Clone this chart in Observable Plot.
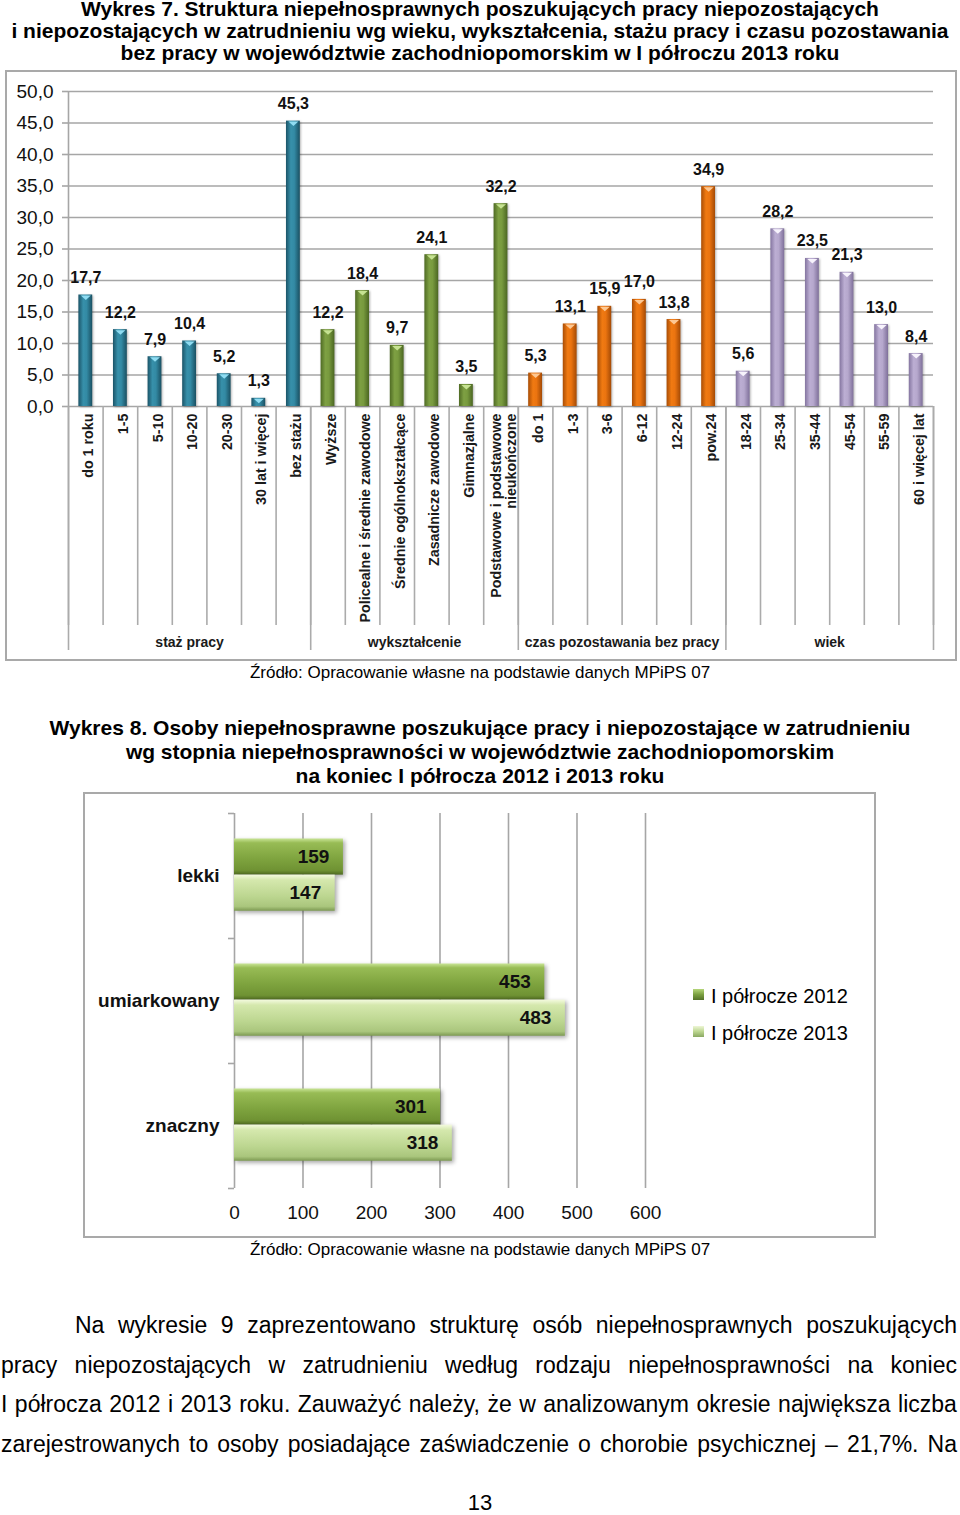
<!DOCTYPE html>
<html lang="pl">
<head>
<meta charset="utf-8">
<script src="https://cdn.jsdelivr.net/npm/d3@7"></script>
<script src="https://cdn.jsdelivr.net/npm/@observablehq/plot@0.6"></script>
<style>
html,body{margin:0;padding:0;background:#fff;}
body{width:960px;height:1515px;position:relative;overflow:hidden;font-family:"Liberation Sans",Arial,sans-serif;color:#000;}
.ab{position:absolute;}
.tl{position:absolute;left:0;width:960px;text-align:center;white-space:nowrap;font-weight:bold;font-size:21px;line-height:21px;}
.src{position:absolute;left:0;width:960px;text-align:center;white-space:nowrap;font-size:17px;line-height:17px;}
.box{position:absolute;box-sizing:border-box;border:2px solid #a9a9a9;}
.pl{position:absolute;display:flex;justify-content:space-between;font-size:23px;line-height:23px;white-space:nowrap;}
.leg{position:absolute;font-size:20px;line-height:20px;white-space:nowrap;}
.sq{position:absolute;width:11px;height:11px;}
#c1 g[aria-label="rect"] rect{filter:drop-shadow(1.5px 1px 1px rgba(0,0,0,0.3));}
#c2 g[aria-label="rect"] rect{filter:drop-shadow(2px 2px 2px rgba(0,0,0,0.35));}
</style>
</head>
<body>
<svg width="0" height="0" style="position:absolute">
  <defs>
    <linearGradient id="bar0" x1="0" y1="0" x2="1" y2="0">
      <stop offset="0" stop-color="#1b5468"/><stop offset="0.35" stop-color="#3790aa"/><stop offset="0.6" stop-color="#338aa4"/><stop offset="1" stop-color="#1a5062"/>
    </linearGradient>
    <linearGradient id="bar1" x1="0" y1="0" x2="1" y2="0">
      <stop offset="0" stop-color="#4f6b24"/><stop offset="0.35" stop-color="#7ea043"/><stop offset="0.6" stop-color="#789a3e"/><stop offset="1" stop-color="#4b6622"/>
    </linearGradient>
    <linearGradient id="bar2" x1="0" y1="0" x2="1" y2="0">
      <stop offset="0" stop-color="#a94d05"/><stop offset="0.35" stop-color="#f07a12"/><stop offset="0.6" stop-color="#eb7410"/><stop offset="1" stop-color="#a44a05"/>
    </linearGradient>
    <linearGradient id="bar3" x1="0" y1="0" x2="1" y2="0">
      <stop offset="0" stop-color="#8475a0"/><stop offset="0.35" stop-color="#bcaed3"/><stop offset="0.6" stop-color="#b6a8cd"/><stop offset="1" stop-color="#7f709a"/>
    </linearGradient>
    <linearGradient id="hb0" x1="0" y1="0" x2="0" y2="1">
      <stop offset="0" stop-color="#c9e596"/><stop offset="0.12" stop-color="#98bc55"/><stop offset="0.55" stop-color="#7fa43f"/><stop offset="0.88" stop-color="#6f9233"/><stop offset="1" stop-color="#4f6b22"/>
    </linearGradient>
    <linearGradient id="hb1" x1="0" y1="0" x2="0" y2="1">
      <stop offset="0" stop-color="#f4fadf"/><stop offset="0.15" stop-color="#d5e8ad"/><stop offset="0.6" stop-color="#bcd690"/><stop offset="0.88" stop-color="#aac67d"/><stop offset="1" stop-color="#7d9a52"/>
    </linearGradient>
  </defs>
</svg>

<div class="tl" style="top:-2px">Wykres 7. Struktura niepełnosprawnych poszukujących pracy niepozostających</div>
<div class="tl" style="top:20px">i niepozostających w zatrudnieniu wg wieku, wykształcenia, stażu pracy i czasu pozostawania</div>
<div class="tl" style="top:42px">bez pracy w województwie zachodniopomorskim w I półroczu 2013 roku</div>

<div class="box" style="left:5px;top:70px;width:952px;height:591px"></div>
<div id="c1" class="ab" style="left:0;top:70px"></div>
<div class="src" style="top:664px">Źródło: Opracowanie własne na podstawie danych MPiPS 07</div>

<div class="tl" style="top:717px">Wykres 8. Osoby niepełnosprawne poszukujące pracy i niepozostające w zatrudnieniu</div>
<div class="tl" style="top:741px">wg stopnia niepełnosprawności w województwie zachodniopomorskim</div>
<div class="tl" style="top:765px">na koniec I półrocza 2012 i 2013 roku</div>

<div class="box" style="left:83px;top:792px;width:793px;height:446px"></div>
<div id="c2" class="ab" style="left:83px;top:792px"></div>
<div id="legend"></div>
<div class="src" style="top:1241px">Źródło: Opracowanie własne na podstawie danych MPiPS 07</div>

<div id="para"></div>
<div class="ab" style="left:0;width:960px;text-align:center;top:1492px;font-size:22px;line-height:22px">13</div>

<script>
// ---------- Chart 1 data ----------
const cats1 = ["do 1 roku", "1-5", "5-10", "10-20", "20-30", "30 lat i więcej", "bez stażu",
  "Wyższe", "Policealne i średnie zawodowe", "Średnie ogólnokształcące", "Zasadnicze zawodowe", "Gimnazjalne", "Podstawowe i podstawowe\nnieukończone",
  "do 1", "1-3", "3-6", "6-12", "12-24", "pow.24",
  "18-24", "25-34", "35-44", "45-54", "55-59", "60 i więcej lat"];
const values1 = [17.7, 12.2, 7.9, 10.4, 5.2, 1.3, 45.3,
  12.2, 18.4, 9.7, 24.1, 3.5, 32.2,
  5.3, 13.1, 15.9, 17.0, 13.8, 34.9,
  5.6, 28.2, 23.5, 21.3, 13.0, 8.4];
const groups1 = ["staż pracy", "wykształcenie", "czas pozostawania bez pracy", "wiek"];
const groupSizes1 = [7, 6, 6, 6];
const yTicks1 = [0, 5, 10, 15, 20, 25, 30, 35, 40, 45, 50];

// ---------- Chart 2 data ----------
const cats2 = ["lekki", "umiarkowany", "znaczny"];
const series2 = ["I półrocze 2012", "I półrocze 2013"];
const values2012 = [159, 453, 301];
const values2013 = [147, 483, 318];
const xTicks2 = [0, 100, 200, 300, 400, 500, 600];

// ---------- Paragraph ----------
const paraLines = [
  "Na wykresie 9 zaprezentowano strukturę osób niepełnosprawnych poszukujących",
  "pracy niepozostających w zatrudnieniu według rodzaju niepełnosprawności na koniec",
  "I półrocza 2012 i 2013 roku. Zauważyć należy, że w analizowanym okresie największa liczba",
  "zarejestrowanych to osoby posiadające zaświadczenie o chorobie psychicznej – 21,7%. Na"
];

const FONT = '"Liberation Sans", Arial, sans-serif';
const comma1 = v => v.toFixed(1).replace(".", ",");

// chart 1 table
const groupOf = [];
groupSizes1.forEach((n, g) => { for (let k = 0; k < n; k++) groupOf.push(g); });
const rows1 = cats1.map((c, i) => ({i, cat: c, value: values1[i], g: groupOf[i]}));
const bounds1 = d3.range(cats1.length + 1);
const gBounds = [0, ...d3.cumsum(groupSizes1)];
const groupRows = groups1.map((label, g) => ({label, mid: (gBounds[g] + gBounds[g + 1]) / 2}));
const capColors = ["#8fdcf2", "#c6e292", "#fdc893", "#f7f3fc"];
const capSymbol = {draw(ctx) { ctx.moveTo(-5, 0.5); ctx.lineTo(5, 0.5); ctx.lineTo(0, 5); ctx.closePath(); }};
const gridC = "#a6a6a6";

const chart1 = Plot.plot({
  width: 960, height: 590,
  marginTop: 21, marginBottom: 254, marginLeft: 68, marginRight: 27,
  x: {domain: [0, cats1.length], axis: null},
  y: {domain: [0, 50], axis: null},
  color: {type: "identity"},
  style: {fontFamily: FONT, background: "transparent", overflow: "visible", color: "#000"},
  marks: [
    Plot.ruleY(yTicks1, {stroke: gridC, strokeWidth: 1.6}),
    Plot.ruleY(yTicks1, {x1: 0, x2: 0, insetLeft: -6, stroke: gridC, strokeWidth: 1.6}),
    Plot.ruleX([0], {stroke: gridC, strokeWidth: 1.6}),
    Plot.ruleX(bounds1, {y1: 0, y2: 0, insetBottom: -219, stroke: "#ababab", strokeWidth: 1.6}),
    Plot.ruleX(gBounds, {y1: 0, y2: 0, insetBottom: -244, stroke: "#ababab", strokeWidth: 1.6}),
    Plot.axisY(yTicks1, {label: null, tickSize: 0, tickPadding: 15, tickFormat: comma1, fontSize: 19, fill: "#111"}),
    Plot.rectY(rows1, {x1: d => d.i + 0.3, x2: d => d.i + 0.7, y1: 0, y2: "value", fill: d => `url(#bar${d.g})`}),
    Plot.dot(rows1, {x: d => d.i + 0.5, y: "value", symbol: capSymbol, r: 5, fill: d => capColors[d.g], stroke: "none"}),
    Plot.text(rows1, {x: d => d.i + 0.5, y: "value", text: d => comma1(d.value), lineAnchor: "bottom", dy: -12, fontWeight: "bold", fontSize: 16, fill: "#111"}),
    Plot.text(rows1, {x: d => d.i + 0.5, frameAnchor: "bottom", text: "cat", rotate: -90, textAnchor: "end", lineAnchor: "middle", dy: 7, dx: 3, fontWeight: "bold", fontSize: 14.3, fill: "#1a1a1a"}),
    Plot.text(groupRows, {x: "mid", frameAnchor: "bottom", dy: 240, text: "label", fontWeight: "bold", fontSize: 14, fill: "#1a1a1a"})
  ]
});
document.getElementById("c1").append(chart1);

// chart 2 table
const rows2 = cats2.flatMap((c, i) => [values2012[i], values2013[i]].map((v, s) => ({cat: c, i, s, series: series2[s], value: v})));
const barTop = 0.204, barH = 0.289;
const chart2 = Plot.plot({
  width: 792, height: 445,
  marginTop: 21, marginBottom: 49, marginLeft: 151, marginRight: 230,
  x: {domain: [0, 600], axis: null},
  y: {domain: [0, cats2.length], reverse: true, axis: null},
  color: {type: "identity"},
  style: {fontFamily: FONT, background: "transparent", overflow: "visible", color: "#000"},
  marks: [
    Plot.ruleX(xTicks2, {stroke: gridC, strokeWidth: 1.6}),
    Plot.ruleY(d3.range(cats2.length + 1), {x1: 0, x2: 0, insetLeft: -6, stroke: gridC, strokeWidth: 1.6}),
    Plot.axisX(xTicks2, {label: null, tickSize: 0, tickPadding: 17, fontSize: 19, fill: "#111"}),
    Plot.rectX(rows2, {x1: 0, x2: "value", y1: d => d.i + barTop + d.s * barH, y2: d => d.i + barTop + (d.s + 1) * barH, fill: d => `url(#hb${d.s})`}),
    Plot.text(rows2, {x: "value", y: d => d.i + barTop + (d.s + 0.5) * barH, text: d => String(d.value), textAnchor: "end", dx: -14, fontWeight: "bold", fontSize: 19, fill: "#111"}),
    Plot.text(cats2.map((c, i) => ({c, i})), {frameAnchor: "left", y: d => d.i + 0.5, text: "c", textAnchor: "end", dx: -15, fontWeight: "bold", fontSize: 19, fill: "#111"})
  ]
});
document.getElementById("c2").append(chart2);

// legend
const legendGrad = ["linear-gradient(#b5d67a,#7ba040 50%,#55722a)", "linear-gradient(#eef6d6,#bcd690 50%,#8aa862)"];
const legend = document.getElementById("legend");
series2.forEach((name, s) => {
  const sq = document.createElement("div");
  sq.className = "sq";
  sq.style.left = "693px"; sq.style.top = (989 + 37 * s) + "px";
  sq.style.background = legendGrad[s];
  legend.append(sq);
  const t = document.createElement("div");
  t.className = "leg";
  t.style.left = "711px"; t.style.top = (986 + 37 * s) + "px";
  t.textContent = name;
  legend.append(t);
});

// paragraph
const para = document.getElementById("para");
const paraTops = [1314, 1354, 1393, 1433];
paraLines.forEach((line, k) => {
  const div = document.createElement("div");
  div.className = "pl";
  const left = k === 0 ? 75 : 1;
  div.style.left = left + "px"; div.style.width = (957 - left) + "px"; div.style.top = paraTops[k] + "px";
  line.split(" ").forEach(w => { const sp = document.createElement("span"); sp.textContent = w; div.append(sp); });
  para.append(div);
});
</script>
</body>
</html>
